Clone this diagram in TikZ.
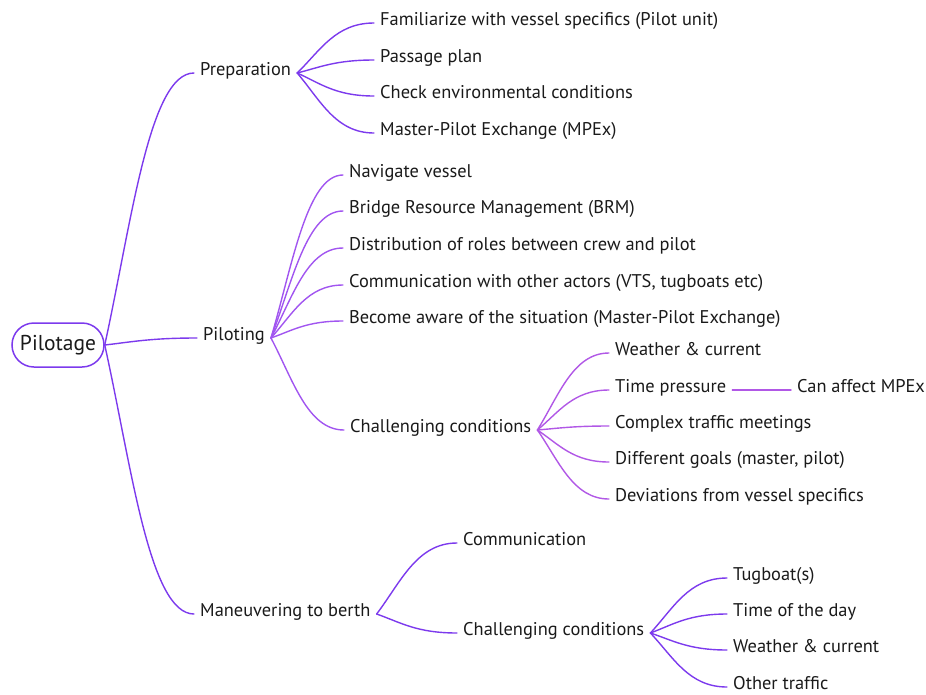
\documentclass[tikz,border=0pt]{standalone}
\usepackage{fontspec}
\setmainfont{PT Sans}
\usetikzlibrary{calc}
\definecolor{mmA}{HTML}{7C3AED}
\definecolor{mmB}{HTML}{A155F0}
\definecolor{mmC}{HTML}{B158E6}
\definecolor{mmtext}{HTML}{1A1A1A}
\tikzset{
  mmline/.style={line width=1.4pt, line cap=round},
  topic/.style={anchor=west, inner xsep=6pt, inner ysep=1pt, text=mmtext,
    font=\fontsize{18.4}{21}\selectfont, text height=0.7em, text depth=0.3em},
  rootbox/.style={draw=mmA, line width=1.5pt, rounded corners=22pt, minimum width=92pt,
    minimum height=44pt, text=mmtext, font=\fontsize{21.5}{24}\selectfont, inner sep=0pt}
}
\newcommand\mmconn[3]{\draw[mmline,#1] let \p1=(#2), \p2=(#3) in
  (\p1) .. controls ({\x1+0.3*(\x2-\x1)},{\y1+0.45*(\y2-\y1)}) and ({\x1+0.5*(\x2-\x1)},{\y2}) .. (\p2);}
\begin{document}
\begin{tikzpicture}[x=1pt,y=-1pt]
\useasboundingbox (0,0) rectangle (926,694);
% root
\node[rootbox] (root) at (58,345) {Pilotage};
% level 1
\node[topic] (prep) at (194,73) {Preparation};
\node[topic] (pilo) at (197,338) {Piloting};
\node[topic] (man)  at (194,614) {Maneuvering to berth};
% preparation
\node[topic] (p1) at (374,23) {Familiarize with vessel specifics (Pilot unit)};
\node[topic] (p2) at (374,60) {Passage plan};
\node[topic] (p3) at (374,96) {Check environmental conditions};
\node[topic] (p4) at (374,133) {Master-Pilot Exchange (MPEx)};
% piloting
\node[topic] (q1) at (343,175) {Navigate vessel};
\node[topic] (q2) at (343,211) {Bridge Resource Management (BRM)};
\node[topic] (q3) at (343,248) {Distribution of roles between crew and pilot};
\node[topic] (q4) at (343,285) {Communication with other actors (VTS, tugboats etc)};
\node[topic] (q5) at (343,321) {Become aware of the situation (Master-Pilot Exchange)};
\node[topic] (q6) at (344,430) {Challenging conditions};
% challenging (piloting)
\node[topic] (c1) at (609,353) {Weather \& current};
\node[topic] (c2) at (609,390) {Time pressure};
\node[topic] (c3) at (609,426) {Complex traffic meetings};
\node[topic] (c4) at (609,462) {Different goals (master, pilot)};
\node[topic] (c5) at (609,499) {Deviations from vessel specifics};
\node[topic] (c2a) at (791,390) {Can affect MPEx};
% maneuvering
\node[topic] (m1) at (457,543) {Communication};
\node[topic] (m2) at (457,633) {Challenging conditions};
\node[topic] (n1) at (727,578) {Tugboat(s)};
\node[topic] (n2) at (727,614) {Time of the day};
\node[topic] (n3) at (727,650) {Weather \& current};
\node[topic] (n4) at (727,687) {Other traffic};
% connectors
\foreach \t in {prep,pilo,man} {\mmconn{mmA}{root.east}{\t.west}}
\foreach \t in {p1,p2,p3,p4} {\mmconn{mmA}{prep.east}{\t.west}}
\foreach \t in {q1,q2,q3,q4,q5,q6} {\mmconn{mmB}{pilo.east}{\t.west}}
\foreach \t in {c1,c2,c3,c4,c5} {\mmconn{mmC}{q6.east}{\t.west}}
\draw[mmline,mmC] (c2.east) -- (c2a.west);
\foreach \t in {m1,m2} {\mmconn{mmA}{man.east}{\t.west}}
\foreach \t in {n1,n2,n3,n4} {\mmconn{mmA}{m2.east}{\t.west}}
\end{tikzpicture}
\end{document}
